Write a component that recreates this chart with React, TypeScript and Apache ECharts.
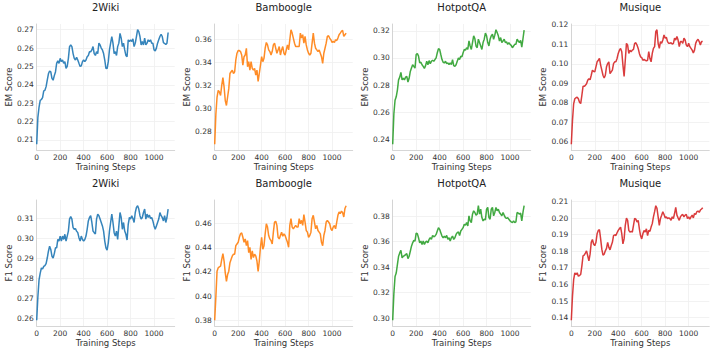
import React, { useEffect, useRef } from "react";
import * as echarts from "echarts";

const DATASETS = ["2Wiki", "Bamboogle", "HotpotQA", "Musique"];
const METRICS = ["EM Score", "F1 Score"];
const COLORS = ["#1f77b4", "#ff7f0e", "#2ca02c", "#d62728"];
const X_LABEL = "Training Steps";
const STEP = 10;
const X_TICK = 200;
const X_MAX = 1176;
const Y_TICKS = [
  [0.01, 0.02, 0.02, 0.01],
  [0.01, 0.02, 0.02, 0.01],
];

const emWiki = [
  0.2076, 0.2223, 0.2278, 0.2315, 0.232, 0.233, 0.2367, 0.237, 0.239, 0.2425,
  0.246, 0.2475, 0.247, 0.2435, 0.2425, 0.245, 0.247, 0.2517, 0.253, 0.2517,
  0.2544, 0.2526, 0.2535, 0.2517, 0.2526, 0.249, 0.25, 0.2544, 0.2608, 0.2617,
  0.2608, 0.257, 0.2544, 0.2535, 0.255, 0.2535, 0.2517, 0.25, 0.2503, 0.2526,
  0.2535, 0.2526, 0.2535, 0.2553, 0.256, 0.258, 0.258, 0.259, 0.2608, 0.257,
  0.256, 0.258, 0.257, 0.2627, 0.2617, 0.26, 0.259, 0.257, 0.2535, 0.249,
  0.2488, 0.2526, 0.259, 0.2627, 0.2663, 0.2627, 0.257, 0.258, 0.256, 0.2608,
  0.2627, 0.268, 0.2654, 0.2608, 0.2627, 0.259, 0.256, 0.2553, 0.2645, 0.2636,
  0.2645, 0.2636, 0.265, 0.2608, 0.2627, 0.2663, 0.27, 0.269, 0.2663, 0.2617,
  0.2636, 0.2617, 0.2654, 0.2617, 0.2627, 0.2645, 0.2636, 0.2645, 0.2627, 0.2627,
  0.259, 0.2585, 0.26, 0.2627, 0.2645, 0.2663, 0.2675, 0.2663, 0.263, 0.2625,
  0.262, 0.2627, 0.2685,
];
const emBamboogle = [
  0.2692, 0.2954, 0.31, 0.3158, 0.3143, 0.3114, 0.32, 0.3268, 0.3187, 0.307,
  0.3027, 0.31, 0.3172, 0.3303, 0.3318, 0.3332, 0.3303, 0.3318, 0.342, 0.3478,
  0.3501, 0.3501, 0.3492, 0.3463, 0.3376, 0.3448, 0.3463, 0.3521, 0.3361, 0.3405,
  0.3332, 0.3405, 0.3347, 0.3332, 0.3347, 0.3289, 0.3332, 0.3235, 0.3303, 0.3376,
  0.3448, 0.3405, 0.3434, 0.3521, 0.3571, 0.355, 0.3507, 0.3492, 0.3463, 0.3492,
  0.355, 0.3565, 0.3521, 0.3478, 0.3507, 0.3536, 0.3463, 0.3507, 0.3536, 0.3478,
  0.3463, 0.3507, 0.355, 0.3507, 0.3594, 0.3681, 0.3652, 0.3609, 0.3565, 0.3536,
  0.3536, 0.3536, 0.3536, 0.3652, 0.3609, 0.3638, 0.3565, 0.3623, 0.355, 0.3507,
  0.3478, 0.3463, 0.3478, 0.3565, 0.3652, 0.3565, 0.3521, 0.3507, 0.3492, 0.3507,
  0.3478, 0.3448, 0.339, 0.3478, 0.3521, 0.3565, 0.3623, 0.3629, 0.3609, 0.3594,
  0.3571, 0.358, 0.3571, 0.3594, 0.3588, 0.3609, 0.3638, 0.3652, 0.3667, 0.3676,
  0.3623, 0.3638, 0.3652,
];
const emHotpot = [
  0.2363, 0.2588, 0.2688, 0.2713, 0.2763, 0.2838, 0.2858, 0.2893, 0.2838, 0.285,
  0.2838, 0.2858, 0.2863, 0.2822, 0.285, 0.29, 0.2925, 0.295, 0.2938, 0.2925,
  0.3025, 0.3033, 0.3013, 0.2963, 0.2968, 0.295, 0.2938, 0.2922, 0.2943, 0.2975,
  0.295, 0.298, 0.2958, 0.2975, 0.2983, 0.2975, 0.2988, 0.3, 0.3038, 0.3068,
  0.3063, 0.3025, 0.2988, 0.2968, 0.2963, 0.2975, 0.2958, 0.2963, 0.295, 0.2963,
  0.295, 0.2988, 0.2943, 0.2938, 0.295, 0.2975, 0.3, 0.2988, 0.3013, 0.3008,
  0.3038, 0.3063, 0.3058, 0.3075, 0.3063, 0.3125, 0.3088, 0.3063, 0.3113, 0.3163,
  0.3143, 0.3088, 0.3075, 0.3138, 0.3113, 0.3088, 0.3063, 0.3113, 0.3138, 0.3183,
  0.3163, 0.3113, 0.3088, 0.3138, 0.3163, 0.3175, 0.3138, 0.3168, 0.3208, 0.3188,
  0.3163, 0.3125, 0.315, 0.3113, 0.3125, 0.3138, 0.3113, 0.3118, 0.31, 0.3113,
  0.31, 0.3093, 0.3075, 0.3088, 0.31, 0.31, 0.3138, 0.3125, 0.3113, 0.313,
  0.308, 0.314, 0.3205,
];
const emMusique = [
  0.0586, 0.0707, 0.0794, 0.082, 0.0825, 0.0828, 0.082, 0.0802, 0.0795, 0.0837,
  0.0884, 0.0884, 0.0889, 0.0897, 0.0915, 0.0923, 0.0918, 0.0941, 0.0967, 0.0961,
  0.0958, 0.0984, 0.101, 0.1018, 0.1028, 0.0993, 0.0967, 0.0941, 0.0927, 0.0941,
  0.0984, 0.1001, 0.101, 0.0949, 0.0958, 0.0967, 0.1001, 0.101, 0.101, 0.1027,
  0.1053, 0.107, 0.1079, 0.1062, 0.0993, 0.0935, 0.1018, 0.1105, 0.1096, 0.1053,
  0.107, 0.1062, 0.107, 0.1074, 0.1105, 0.1108, 0.1096, 0.1079, 0.1053, 0.1036,
  0.1032, 0.1018, 0.1022, 0.1018, 0.1015, 0.1018, 0.1062, 0.1027, 0.101, 0.1053,
  0.1079, 0.1088, 0.1165, 0.1175, 0.1105, 0.1079, 0.1114, 0.1105, 0.1122, 0.1148,
  0.1131, 0.1136, 0.1114, 0.1105, 0.1105, 0.1108, 0.1101, 0.1105, 0.1131, 0.1122,
  0.114, 0.1122, 0.1088, 0.1114, 0.1114, 0.1105, 0.1131, 0.1122, 0.1096, 0.1088,
  0.1105, 0.1088, 0.1079, 0.107, 0.1056, 0.107, 0.1105, 0.1119, 0.1126, 0.1114,
  0.1096, 0.1114, 0.1114,
];
const f1Wiki = [
  0.259, 0.2708, 0.2793, 0.2826, 0.2852, 0.2847, 0.286, 0.2864, 0.2874, 0.2902,
  0.2936, 0.2961, 0.2945, 0.2911, 0.2902, 0.2924, 0.2953, 0.2953, 0.2995, 0.2987,
  0.3012, 0.2987, 0.3012, 0.2995, 0.3021, 0.2987, 0.3012, 0.3037, 0.3097, 0.311,
  0.3097, 0.3054, 0.3046, 0.3049, 0.3037, 0.3029, 0.3004, 0.2987, 0.3012, 0.2995,
  0.2987, 0.2995, 0.3012, 0.3046, 0.3088, 0.3105, 0.3114, 0.308, 0.3037, 0.3029,
  0.3022, 0.3097, 0.3122, 0.3114, 0.3097, 0.308, 0.3063, 0.3037, 0.2987, 0.2953,
  0.2941, 0.2978, 0.3037, 0.308, 0.3122, 0.308, 0.3029, 0.3012, 0.3037, 0.2995,
  0.3063, 0.313, 0.3105, 0.3046, 0.308, 0.3037, 0.3021, 0.2992, 0.3071, 0.3105,
  0.3097, 0.3114, 0.31, 0.308, 0.313, 0.3156, 0.3164, 0.3147, 0.3114, 0.3097,
  0.3105, 0.313, 0.3147, 0.3097, 0.3122, 0.3105, 0.3117, 0.31, 0.3105, 0.3088,
  0.3063, 0.3046, 0.3063, 0.308, 0.3097, 0.313, 0.3114, 0.3105, 0.3088, 0.3114,
  0.308, 0.3105, 0.3147,
];
const f1Bamboogle = [
  0.38, 0.3996, 0.4207, 0.4235, 0.4243, 0.4249, 0.4305, 0.4352, 0.4291, 0.4193,
  0.4123, 0.4179, 0.4207, 0.4277, 0.4305, 0.4333, 0.4347, 0.4347, 0.4418, 0.4432,
  0.4446, 0.4488, 0.4516, 0.4524, 0.4488, 0.4446, 0.4474, 0.4418, 0.446, 0.4361,
  0.4404, 0.4305, 0.4375, 0.4319, 0.4347, 0.4333, 0.4291, 0.4205, 0.4291, 0.4404,
  0.4488, 0.4389, 0.4418, 0.4516, 0.46, 0.4572, 0.4502, 0.4474, 0.446, 0.4432,
  0.453, 0.4614, 0.462, 0.4586, 0.4488, 0.4474, 0.4502, 0.453, 0.4496, 0.4516,
  0.4502, 0.4474, 0.4446, 0.4405, 0.4586, 0.4642, 0.4572, 0.4558, 0.4572, 0.4586,
  0.4572, 0.4572, 0.4642, 0.46, 0.4628, 0.4586, 0.4675, 0.4614, 0.4544, 0.453,
  0.4488, 0.4502, 0.453, 0.4642, 0.467, 0.4614, 0.4558, 0.4586, 0.4544, 0.453,
  0.4516, 0.4446, 0.4418, 0.4502, 0.4544, 0.4614, 0.4628, 0.4614, 0.46, 0.4558,
  0.4544, 0.4572, 0.4586, 0.4558, 0.4614, 0.467, 0.4698, 0.4684, 0.4704, 0.4693,
  0.4656, 0.4726, 0.4749,
];
const f1Hotpot = [
  0.2984, 0.3195, 0.3327, 0.3354, 0.342, 0.3486, 0.3512, 0.3533, 0.3473, 0.3486,
  0.3491, 0.3499, 0.3507, 0.3468, 0.3486, 0.3525, 0.3565, 0.3591, 0.361, 0.3605,
  0.3667, 0.3663, 0.3631, 0.3591, 0.3605, 0.3578, 0.3605, 0.3578, 0.3597, 0.3605,
  0.3591, 0.3618, 0.3631, 0.3618, 0.3649, 0.3639, 0.3644, 0.3657, 0.3684, 0.371,
  0.3697, 0.3671, 0.3644, 0.3631, 0.3644, 0.3631, 0.3649, 0.3618, 0.3631, 0.3605,
  0.3631, 0.3644, 0.3618, 0.3631, 0.3657, 0.3671, 0.3676, 0.3649, 0.3684, 0.3697,
  0.371, 0.3737, 0.3729, 0.375, 0.3723, 0.3803, 0.3763, 0.375, 0.3816, 0.3842,
  0.3829, 0.3808, 0.3816, 0.3882, 0.3816, 0.3855, 0.3789, 0.3763, 0.3776, 0.3771,
  0.3855, 0.3869, 0.3789, 0.3776, 0.3855, 0.3869, 0.3803, 0.3829, 0.3869, 0.3842,
  0.3855, 0.3829, 0.3816, 0.3803, 0.3829, 0.3808, 0.3789, 0.3782, 0.3789, 0.3776,
  0.3763, 0.3755, 0.375, 0.3763, 0.375, 0.3755, 0.3829, 0.3824, 0.3816, 0.3824,
  0.3763, 0.3829, 0.3882,
];
const f1Musique = [
  0.1384, 0.1527, 0.1629, 0.167, 0.166, 0.167, 0.165, 0.1654, 0.166, 0.1711,
  0.1773, 0.1777, 0.1789, 0.1803, 0.1773, 0.1742, 0.1783, 0.1854, 0.1871, 0.1844,
  0.1834, 0.1854, 0.1906, 0.1926, 0.193, 0.1875, 0.1813, 0.1777, 0.1783, 0.1803,
  0.1818, 0.1854, 0.1824, 0.1809, 0.1834, 0.1854, 0.1895, 0.1899, 0.1895, 0.1912,
  0.1926, 0.1936, 0.1946, 0.1906, 0.1845, 0.1875, 0.1957, 0.2, 0.1987, 0.1926,
  0.1916, 0.192, 0.1916, 0.1957, 0.1998, 0.1994, 0.1977, 0.1987, 0.1936, 0.1895,
  0.1875, 0.1906, 0.1926, 0.1916, 0.1936, 0.1895, 0.1926, 0.192, 0.1946, 0.1967,
  0.2008, 0.2039, 0.2075, 0.2059, 0.2008, 0.1957, 0.1998, 0.2018, 0.2039, 0.2022,
  0.2002, 0.2008, 0.1998, 0.2002, 0.1998, 0.1987, 0.2008, 0.1998, 0.2028, 0.2065,
  0.2018, 0.2002, 0.1987, 0.2008, 0.2018, 0.2022, 0.2008, 0.2018, 0.2022, 0.1998,
  0.2008, 0.1994, 0.2008, 0.2018, 0.2002, 0.2028, 0.2022, 0.2039, 0.2043, 0.2035,
  0.2049, 0.2055, 0.2063,
];

const SERIES = [
  [emWiki, emBamboogle, emHotpot, emMusique],
  [f1Wiki, f1Bamboogle, f1Hotpot, f1Musique],
];

const COL_LEFT = [36.7, 214.7, 392.7, 571.3];
const ROW_TOP = [24, 200];
const GRID_W = 138;
const GRID_H = 126;
const FONT = "DejaVu Sans";

function buildOption() {
  const grid: any[] = [];
  const xAxis: any[] = [];
  const yAxis: any[] = [];
  const series: any[] = [];
  const title: any[] = [];
  let idx = 0;
  for (let r = 0; r < 2; r++) {
    for (let c = 0; c < 4; c++) {
      const vals = SERIES[r][c];
      const dmin = Math.min(...vals);
      const dmax = Math.max(...vals);
      const pad = (dmax - dmin) * 0.05;
      const tick = Y_TICKS[r][c];
      grid.push({
        left: COL_LEFT[c],
        top: ROW_TOP[r],
        width: GRID_W,
        height: GRID_H,
        containLabel: false,
      });
      title.push({
        text: DATASETS[c],
        left: COL_LEFT[c] + GRID_W / 2,
        top: ROW_TOP[r] - 22,
        textAlign: "center",
        padding: 0,
        textStyle: {
          fontFamily: FONT,
          fontSize: 10,
          fontWeight: "normal",
          color: "#222",
        },
      });
      xAxis.push({
        type: "value",
        gridIndex: idx,
        min: 0,
        max: X_MAX,
        minInterval: X_TICK,
        maxInterval: X_TICK,
        name: X_LABEL,
        nameLocation: "middle",
        nameGap: 12.5,
        nameTextStyle: { fontFamily: FONT, fontSize: 8.5, color: "#333" },
        axisLine: { show: true, lineStyle: { color: "#cccccc", width: 0.8 } },
        axisTick: { show: false },
        axisLabel: {
          fontFamily: FONT,
          fontSize: 7.5,
          color: "#333",
          margin: 3,
          showMaxLabel: false,
          formatter: (v: number) => String(Math.round(v)),
        },
        splitLine: {
          show: true,
          showMaxLine: false,
          lineStyle: { color: "#efefef", width: 0.8 },
        },
      });
      yAxis.push({
        type: "value",
        gridIndex: idx,
        min: dmin - pad,
        max: dmax + pad,
        minInterval: tick,
        maxInterval: tick,
        name: METRICS[r],
        nameLocation: "middle",
        nameGap: 23,
        nameTextStyle: { fontFamily: FONT, fontSize: 8.5, color: "#333" },
        axisLine: { show: true, lineStyle: { color: "#cccccc", width: 0.8 } },
        axisTick: { show: false },
        axisLabel: {
          fontFamily: FONT,
          fontSize: 7.5,
          color: "#333",
          margin: 3,
          showMinLabel: false,
          showMaxLabel: false,
          formatter: (v: number) => v.toFixed(2),
        },
        splitLine: {
          show: true,
          showMinLine: false,
          showMaxLine: false,
          lineStyle: { color: "#efefef", width: 0.8 },
        },
      });
      series.push({
        type: "line",
        xAxisIndex: idx,
        yAxisIndex: idx,
        data: vals.map((v, i) => [i * STEP, v]),
        showSymbol: false,
        symbol: "none",
        lineStyle: { color: COLORS[c], width: 1.5, opacity: 0.9 },
        itemStyle: { color: COLORS[c] },
      });
      idx++;
    }
  }
  return {
    animation: false,
    backgroundColor: "#ffffff",
    title,
    grid,
    xAxis,
    yAxis,
    series,
  };
}

export default function App() {
  const ref = useRef<HTMLDivElement>(null);
  useEffect(() => {
    if (!ref.current) return;
    const chart = echarts.init(ref.current, null, { renderer: "svg" });
    chart.setOption(buildOption());
    return () => chart.dispose();
  }, []);
  return (
    <div
      ref={ref}
      style={{ position: "absolute", left: 0, top: 0, width: 714, height: 353 }}
    />
  );
}
